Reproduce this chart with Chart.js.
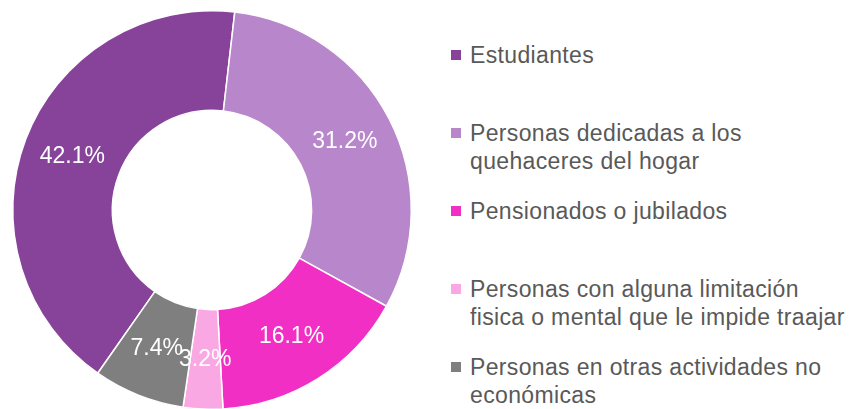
<!DOCTYPE html>
<html>
<head>
<meta charset="utf-8">
<script src="https://cdn.jsdelivr.net/npm/chart.js@4"></script>
<style>
  html, body { margin: 0; padding: 0; background: #fff; overflow: hidden; width: 851px; height: 409px; }
  #wrap { position: absolute; left: 0; top: 0; width: 424px; height: 410px; }
  #legend { position: absolute; left: 451px; top: 41px; font-family: "Liberation Sans", Arial, sans-serif; font-size: 23px; letter-spacing: 0.35px; color: #595959; }
  .item { position: relative; height: 78px; line-height: 28px; padding-left: 19px; white-space: nowrap; }
  .box { position: absolute; left: 0; top: 9px; width: 10px; height: 10px; }
</style>
</head>
<body>
<div id="wrap"><canvas id="myChart"></canvas></div>
<div id="legend"></div>
<script>
// categories (legend text, already split the way the original wraps)
const categories = [
    ['Estudiantes'],
    ['Personas dedicadas a los', 'quehaceres del hogar'],
    ['Pensionados o jubilados'],
    ['Personas con alguna limitación', 'fisica o mental que le impide traajar'],
    ['Personas en otras actividades no', 'económicas']
];
const shares = [42.1, 31.2, 16.1, 3.2, 7.4];
const colors = ['#874399', '#B886CA', '#F22FC4', '#F9A8E3', '#7F7F7F'];

// white percentage text in the middle of each slice
const sliceLabels = {
    id: 'sliceLabels',
    afterDatasetsDraw(chart) {
        const c = chart.ctx;
        const meta = chart.getDatasetMeta(0);
        c.save();
        c.fillStyle = '#fff';
        c.font = '23px "Liberation Sans", Arial, sans-serif';
        c.textAlign = 'center';
        c.textBaseline = 'middle';
        meta.data.forEach((arc, i) => {
            const p = arc.tooltipPosition();
            c.fillText(shares[i].toFixed(1) + '%', p.x, p.y);
        });
        c.restore();
    }
};

const ctx = document.getElementById('myChart');
new Chart(ctx, {
    type: 'doughnut',
    data: {
        labels: categories,
        datasets: [{
            data: shares,
            backgroundColor: colors,
            borderColor: '#fff',
            borderWidth: 1.5
        }]
    },
    options: {
        responsive: true,
        maintainAspectRatio: false,
        animation: false,
        cutout: '50%',
        rotation: 215,
        layout: { padding: { top: 10 } },
        plugins: {
            legend: { display: false },
            tooltip: { enabled: false }
        }
    },
    plugins: [sliceLabels]
});

// legend on the right
const legend = document.getElementById('legend');
categories.forEach((lines, i) => {
    const item = document.createElement('div');
    item.className = 'item';
    const box = document.createElement('span');
    box.className = 'box';
    box.style.background = colors[i];
    item.appendChild(box);
    lines.forEach((line, j) => {
        if (j > 0) item.appendChild(document.createElement('br'));
        item.appendChild(document.createTextNode(line));
    });
    legend.appendChild(item);
});
</script>
</body>
</html>
